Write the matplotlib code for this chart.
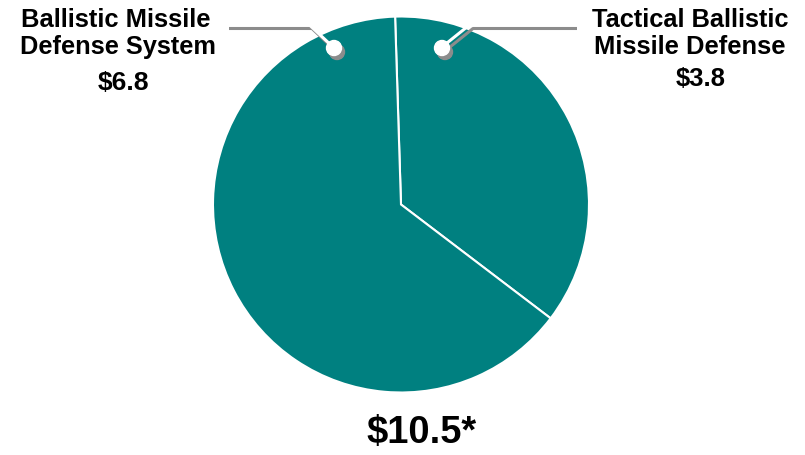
import matplotlib
matplotlib.use("Agg")
import matplotlib.pyplot as plt
from matplotlib.patches import Circle

plt.rcParams['font.family'] = ['Liberation Sans', 'DejaVu Sans']

# Budget by program ($ billions)
programs = ["Tactical Ballistic\nMissile Defense", "Ballistic Missile\nDefense System"]
values = [3.8, 6.8]
value_labels = ["$3.8", "$6.8"]
total_label = "$10.5*"

W, H = 805, 456
fig = plt.figure(figsize=(W / 100, H / 100), dpi=100)
ax = fig.add_axes([0, 0, 1, 1])
ax.set_xlim(0, W)
ax.set_ylim(0, H)
ax.set_aspect('equal')
ax.axis('off')

def Y(py):
    return H - py

teal = "#008080"
cx, cy, r = 401, Y(205.5), 188
start = 91.8
ax.pie(values, colors=[teal, teal], startangle=start, counterclock=False,
       center=(cx, cy), radius=r, frame=True,
       wedgeprops=dict(edgecolor="white", linewidth=1.5))
ax.set_xlim(0, W)
ax.set_ylim(0, H)
ax.axis('off')

shadow = "#8c8c8c"
off = (3, 4)

def leader(points, dot):
    xs = [p[0] for p in points]
    ys = [Y(p[1]) for p in points]
    ax.plot([x + off[0] for x in xs], [y - off[1] for y in ys], color=shadow,
            lw=2.2, solid_capstyle='butt', zorder=5)
    ax.add_patch(Circle((dot[0] + off[0], Y(dot[1]) - off[1]), 7.5,
                        color=shadow, zorder=6))
    ax.plot(xs, ys, color="white", lw=2.2, solid_capstyle='butt', zorder=7)
    ax.add_patch(Circle((dot[0], Y(dot[1])), 7.5, color="white", zorder=8))

leader([(226, 25.5), (309, 25.5), (333, 48)], (334, 49))
leader([(574, 25.5), (470, 25.5), (442, 48)], (442, 49))

renderer = fig.canvas.get_renderer()

def fitted_text(x_left, x_right, y_base, s, base_size=16, squeeze=0.97):
    # size the label so it roughly spans the given pixel range
    t = ax.text((x_left + x_right) / 2, Y(y_base), s, fontsize=base_size,
                fontweight='bold', ha='center', va='baseline', color='black')
    w = t.get_window_extent(renderer).width
    t.set_fontsize(squeeze * base_size * (x_right - x_left) / w)
    return t

fitted_text(18.3, 213.3, 27.3, "Ballistic Missile")
fitted_text(16.7, 218.3, 54, "Defense System")
fitted_text(96.7, 150, 90.5, value_labels[1])
fitted_text(588.3, 791.7, 27.3, "Tactical Ballistic")
fitted_text(591.7, 788.3, 54, "Missile Defense")
fitted_text(675, 726.7, 86.5, value_labels[0])
fitted_text(361.7, 481.7, 443, total_label, base_size=22, squeeze=0.92)

fig.savefig("out.png", dpi=100)
